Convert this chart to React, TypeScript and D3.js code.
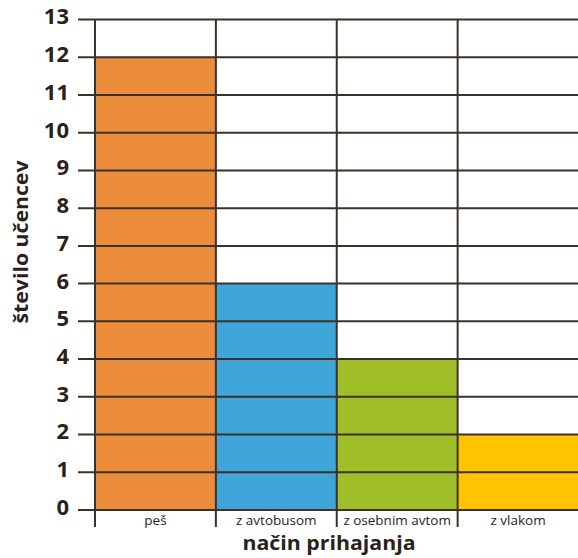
import React from 'react';
import * as d3 from 'd3';

const categories = ['peš', 'z avtobusom', 'z osebnim avtom', 'z vlakom'];
const counts = [12, 6, 4, 2];
const barColors = ['#EA8C3A', '#40A6DA', '#9FBE2A', '#FFC400'];
const yTicks = d3.range(0, 14);

const W = 578;
const H = 558;
const margin = { top: 19.5, right: 0, bottom: 48, left: 95 };
const line = '#3d3129';
const ink = '#2b211b';
const font = '"Open Sans", "Noto Sans", sans-serif';

export default function App() {
  const x = d3.scaleBand().domain(categories).range([margin.left, W + 0.5]).padding(0);
  const y = d3.scaleLinear().domain([0, 13]).range([H - margin.bottom, margin.top]);

  return (
    <svg width={W} height={H} style={{ position: 'absolute', left: 0, top: 0, fontFamily: font }}>
      {categories.map((c, i) => (
        <rect
          key={c}
          x={x(c)}
          y={y(counts[i])}
          width={x.bandwidth()}
          height={y(0) - y(counts[i])}
          fill={barColors[i]}
        />
      ))}
      {yTicks.map(t => (
        <g key={t}>
          <line x1={78} x2={W} y1={y(t)} y2={y(t)} stroke={line} strokeWidth={2} />
          <text x={69} y={y(t) - 3} dy="0.36em" textAnchor="end" fontSize={22} fontWeight={700} fill={ink}>
            {t}
          </text>
        </g>
      ))}
      {categories.map(c => (
        <line key={c} x1={x(c)} x2={x(c)} y1={y(13)} y2={y(0) + 17} stroke={line} strokeWidth={2} />
      ))}
      {categories.map(c => (
        <text key={c} x={(x(c) || 0) + x.bandwidth() / 2} y={y(0) + 15} textAnchor="middle" fontSize={13.5} fill={ink}>
          {c}
        </text>
      ))}
      <text x={329} y={550} textAnchor="middle" fontSize={20} fontWeight={700} fill={ink}
        textLength={173} lengthAdjust="spacingAndGlyphs">
        način prihajanja
      </text>
      <text
        transform={`translate(28,242) rotate(-90)`}
        textAnchor="middle"
        fontSize={19}
        fontWeight={700}
        fill={ink}
        textLength={163}
        lengthAdjust="spacingAndGlyphs"
      >
        število učencev
      </text>
    </svg>
  );
}
